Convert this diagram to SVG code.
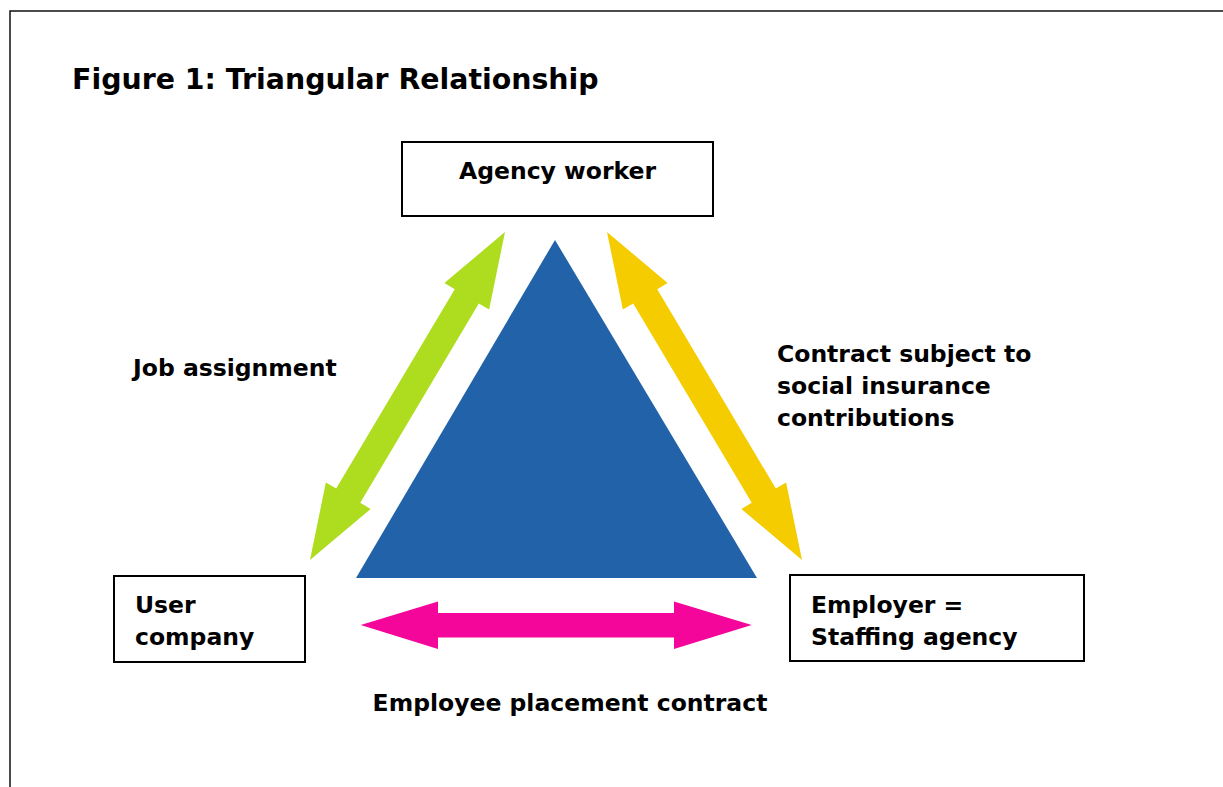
<svg xmlns="http://www.w3.org/2000/svg" width="1223" height="787" viewBox="0 0 1223 787">
  <style>
    .t { font-family: "DejaVu Sans", Verdana, sans-serif; font-weight: bold; font-size: 23.5px; fill: #000; }
    .box { fill: #fff; stroke: #000; stroke-width: 2; }
  </style>
  <rect width="1223" height="787" fill="#fff"/>
  <path d="M10,787 V11 H1223" fill="none" stroke="#111" stroke-width="1.5"/>
  <text x="72" y="89" class="t" style="font-size:28.4px">Figure 1: Triangular Relationship</text>

  <polygon id="triangle" points="555,240 356,578 757,578" fill="#2262A8"/>

  <g id="connectors">
    <polygon id="job-arrow" fill="#AEDC1E" transform="translate(407.5,396) rotate(-59.27)"
      points="-190.8,0 -116,-26 -116,-14 116,-14 116,-26 190.8,0 116,26 116,14 -116,14 -116,26"/>
    <polygon id="contract-arrow" fill="#F4CC00" transform="translate(704.5,396) rotate(59.27)"
      points="-190.8,0 -116,-26 -116,-14 116,-14 116,-26 190.8,0 116,26 116,14 -116,14 -116,26"/>
    <polygon id="placement-arrow" fill="#F5069A"
      points="360.7,625 438,601.5 438,613 674,613 674,601.5 751.7,625 674,649 674,637.5 438,637.5 438,649"/>
  </g>

  <g id="agency-worker">
    <rect class="box" x="402" y="142" width="311" height="74"/>
    <text class="t" x="557.5" y="179" text-anchor="middle">Agency worker</text>
  </g>
  <g id="user-company">
    <rect class="box" x="114" y="576" width="191" height="86"/>
    <text class="t" x="135" y="613">User</text>
    <text class="t" x="135" y="645">company</text>
  </g>
  <g id="employer">
    <rect class="box" x="790" y="575" width="294" height="86"/>
    <text class="t" x="811" y="613">Employer =</text>
    <text class="t" x="811" y="645">Staffing agency</text>
  </g>

  <g id="labels">
    <text class="t" x="133" y="376">Job assignment</text>
    <text class="t" x="777" y="362">Contract subject to</text>
    <text class="t" x="777" y="394">social insurance</text>
    <text class="t" x="777" y="426">contributions</text>
    <text class="t" x="570" y="711" text-anchor="middle">Employee placement contract</text>
  </g>
</svg>
